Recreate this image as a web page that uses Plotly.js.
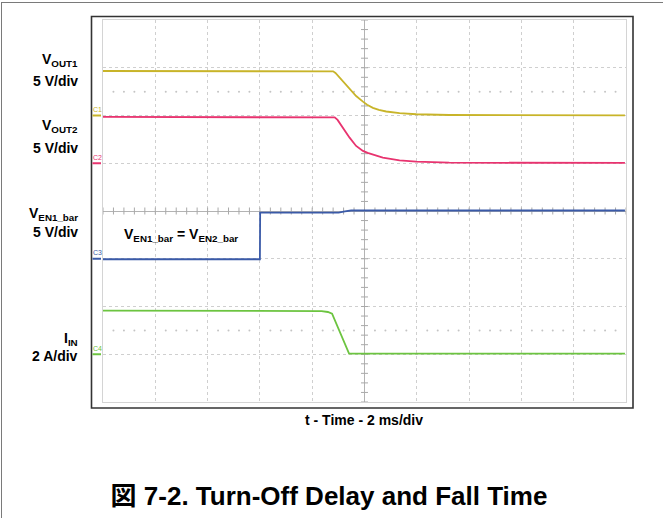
<!DOCTYPE html>
<html><head><meta charset="utf-8">
<script src="https://cdn.plot.ly/plotly-3.0.1.min.js"></script>
<style>
html,body{margin:0;padding:0;background:#fff;}
#wrap{position:relative;width:663px;height:518px;overflow:hidden;}
#chart{width:663px;height:518px;}
#border{position:absolute;left:1px;top:2px;width:700px;height:600px;border-top:1.5px solid #7a7a7a;border-left:1.5px solid #7a7a7a;pointer-events:none;}
</style></head><body>
<div id="wrap"><div id="chart"></div><div id="border"></div></div>
<script>
// ---- data (time in ms, 0 = screen centre; voltages in V, current in A) ----
const vout1_t = [-10, -1.27, -1.20, -1.11, -0.95, -0.76, -0.57, -0.32, -0.06, 0.10, 0.32, 0.55, 0.83, 1.34, 1.98, 3.24, 9.96];
const vout1_v = [4.66, 4.66, 4.62, 4.45, 3.96, 3.46, 2.91, 2.04, 1.45, 1.12, 0.80, 0.58, 0.42, 0.25, 0.13, 0.05, 0.02];

const vout2_t = [-10, -1.21, -1.14, -1.03, -0.83, -0.57, -0.32, -0.06, 0.12, 0.31, 0.70, 1.34, 1.98, 3.24, 9.96];
const vout2_v = [4.85, 4.85, 4.80, 4.54, 3.73, 2.68, 1.81, 1.29, 1.08, 0.90, 0.59, 0.31, 0.17, 0.06, 0.03];

const ven_t = [-10, -4.00, -3.99, -0.99, -0.75, -0.51, 9.96];
const ven_v = [-0.05, -0.05, 4.84, 4.84, 4.95, 5.05, 5.05];

const iin_t = [-10, -1.96, -1.64, -1.40, -1.24, -0.59, 9.96];
const iin_a = [1.83, 1.83, 1.81, 1.77, 1.70, 0.03, 0.03];

// channel settings: units per division, zero-level position (divisions from centre)
const chNames = ['C1', 'C2', 'C3', 'C4'];
const chScale = [5, 5, 5, 2];
const chZero = [2, 1, -1, -3];
const chColor = ['#c8b429', '#e8336f', '#3a5aa8', '#6cc440'];
const chLabel = ['V<sub>OUT1</sub>', 'V<sub>OUT2</sub>', 'V<sub>EN1_bar</sub>', 'I<sub>IN</sub>'];
const chDiv = ['5 V/div', '5 V/div', '5 V/div', '2 A/div'];
const trigTime = -4;      // ms
const trigLevel = 2;      // V on C3
const xLabel = 't - Time - 2 ms/div';
const titleText = '図 7-2. Turn-Off Delay and Fall Time';
const noteText = 'V<sub>EN1_bar</sub> = V<sub>EN2_bar</sub>';

// ---- layout geometry ----
const Wd = 663, Ht = 518;
const L = 103, R = 37, T = 20, B = 116;
const PW = Wd - L - R, PH = Ht - T - B;
const px = v => (v - L) / PW;
const py = v => 1 - (v - T) / PH;
const FONT = 'Liberation Sans, Arial, Noto Sans CJK JP, sans-serif';

const series = [[vout1_t, vout1_v], [vout2_t, vout2_v], [ven_t, ven_v], [iin_t, iin_a]];
const traces = [];

// graticule ticks along centre lines
const hx = [], hy = [], vx = [], vy = [], dx = [], dy = [];
for (let i = -50; i <= 50; i++) { hx.push(i * 0.4); hy.push(0); }
for (let i = -20; i <= 20; i++) { vx.push(0); vy.push(i * 0.2); }
for (let i = -50; i <= 50; i++) {
  if (i % 5 === 0) continue;
  dx.push(i * 0.4); dy.push(2.5);
  dx.push(i * 0.4); dy.push(-2.5);
}
traces.push({x: hx, y: hy, type: 'scatter', mode: 'markers', xaxis: 'x', yaxis: 'y', hoverinfo: 'skip',
  marker: {symbol: 'line-ns', size: 5, line: {width: 1, color: '#a9a9a9'}}});
traces.push({x: vx, y: vy, type: 'scatter', mode: 'markers', xaxis: 'x', yaxis: 'y', hoverinfo: 'skip',
  marker: {symbol: 'line-ew', size: 5, line: {width: 1, color: '#a9a9a9'}}});
traces.push({x: dx, y: dy, type: 'scatter', mode: 'markers', xaxis: 'x', yaxis: 'y', hoverinfo: 'skip',
  marker: {symbol: 'circle', size: 2, color: '#c4c4c4'}});

series.forEach((s, k) => {
  traces.push({x: s[0], y: s[1], type: 'scatter', mode: 'lines', xaxis: 'x', yaxis: 'y' + (k + 2),
    name: chNames[k], line: {color: chColor[k], width: 1.8, shape: 'linear'}});
});

// trigger markers
traces.push({x: [trigTime], y: [-4.07], type: 'scatter', mode: 'markers', xaxis: 'x', yaxis: 'y', cliponaxis: false,
  marker: {symbol: 'triangle-up', size: 7, color: '#3a5aa8'}, hoverinfo: 'skip'});
traces.push({x: [10.12], y: [trigLevel], type: 'scatter', mode: 'markers', xaxis: 'x', yaxis: 'y4', cliponaxis: false,
  marker: {symbol: 'triangle-left', size: 7, color: '#3a5aa8'}, hoverinfo: 'skip'});

const gridAx = {showgrid: true, gridcolor: '#cfcfcf', griddash: 'dot', gridwidth: 1,
  zeroline: true, zerolinecolor: '#b3b3b3', zerolinewidth: 1,
  showticklabels: false, ticks: '', showline: true, mirror: true, linecolor: '#d4d4d4', linewidth: 1, fixedrange: true};

const layout = {
  width: Wd, height: Ht,
  margin: {l: L, r: R, t: T, b: B, pad: 0},
  paper_bgcolor: '#ffffff', plot_bgcolor: '#ffffff',
  showlegend: false,
  xaxis: Object.assign({range: [-10, 10], dtick: 2, tick0: 0}, gridAx),
  yaxis: Object.assign({range: [-4, 4], dtick: 1, tick0: 0}, gridAx),
  title: {text: titleText, font: {family: FONT, size: 26, color: '#000', weight: 'bold'},
    xref: 'paper', x: px(329), xanchor: 'center', yref: 'container', y: 1 - 496 / Ht, yanchor: 'middle'},
  shapes: [
    {type: 'rect', xref: 'paper', yref: 'paper', x0: px(91.5), x1: px(633), y0: py(408), y1: py(16.5),
      line: {color: '#333', width: 1.6}, fillcolor: 'rgba(0,0,0,0)', layer: 'above'}
  ],
  annotations: []
};

chNames.forEach((n, k) => {
  const s = chScale[k], z = chZero[k];
  layout['yaxis' + (k + 2)] = {overlaying: 'y', visible: false, range: [(-4 - z) * s, (4 - z) * s], fixedrange: true};
  // channel ground marker
  layout.shapes.push({type: 'line', xref: 'paper', yref: 'y' + (k + 2), x0: px(92.5), x1: px(101), y0: 0, y1: 0,
    line: {color: chColor[k], width: 2}});
  layout.annotations.push({xref: 'paper', yref: 'y' + (k + 2), x: px(97), y: 0, yshift: 6, text: n, showarrow: false,
    font: {family: FONT, size: 7, color: chColor[k]}, xanchor: 'center', yanchor: 'middle'});
});

const labelY = [[60, 81], [126, 147.5], [214, 232.5], [339, 356]];
chNames.forEach((n, k) => {
  layout.annotations.push({xref: 'paper', yref: 'paper', x: px(80), y: py(labelY[k][0]), text: chLabel[k], showarrow: false,
    font: {family: FONT, size: 14, color: '#000', weight: 'bold'}, xanchor: 'right', yanchor: 'middle'});
  layout.annotations.push({xref: 'paper', yref: 'paper', x: px(80), y: py(labelY[k][1]), text: chDiv[k], showarrow: false,
    font: {family: FONT, size: 14, color: '#000', weight: 'bold'}, xanchor: 'right', yanchor: 'middle'});
});

layout.annotations.push({xref: 'paper', yref: 'paper', x: px(181), y: py(235), text: noteText, showarrow: false,
  font: {family: FONT, size: 14, color: '#000', weight: 'bold'}, xanchor: 'center', yanchor: 'middle'});
layout.annotations.push({xref: 'paper', yref: 'paper', x: px(364), y: py(420), text: xLabel, showarrow: false,
  font: {family: FONT, size: 14, color: '#000', weight: 'bold'}, xanchor: 'center', yanchor: 'middle'});

Plotly.newPlot('chart', traces, layout, {displayModeBar: false, staticPlot: true});
</script>
</body></html>
